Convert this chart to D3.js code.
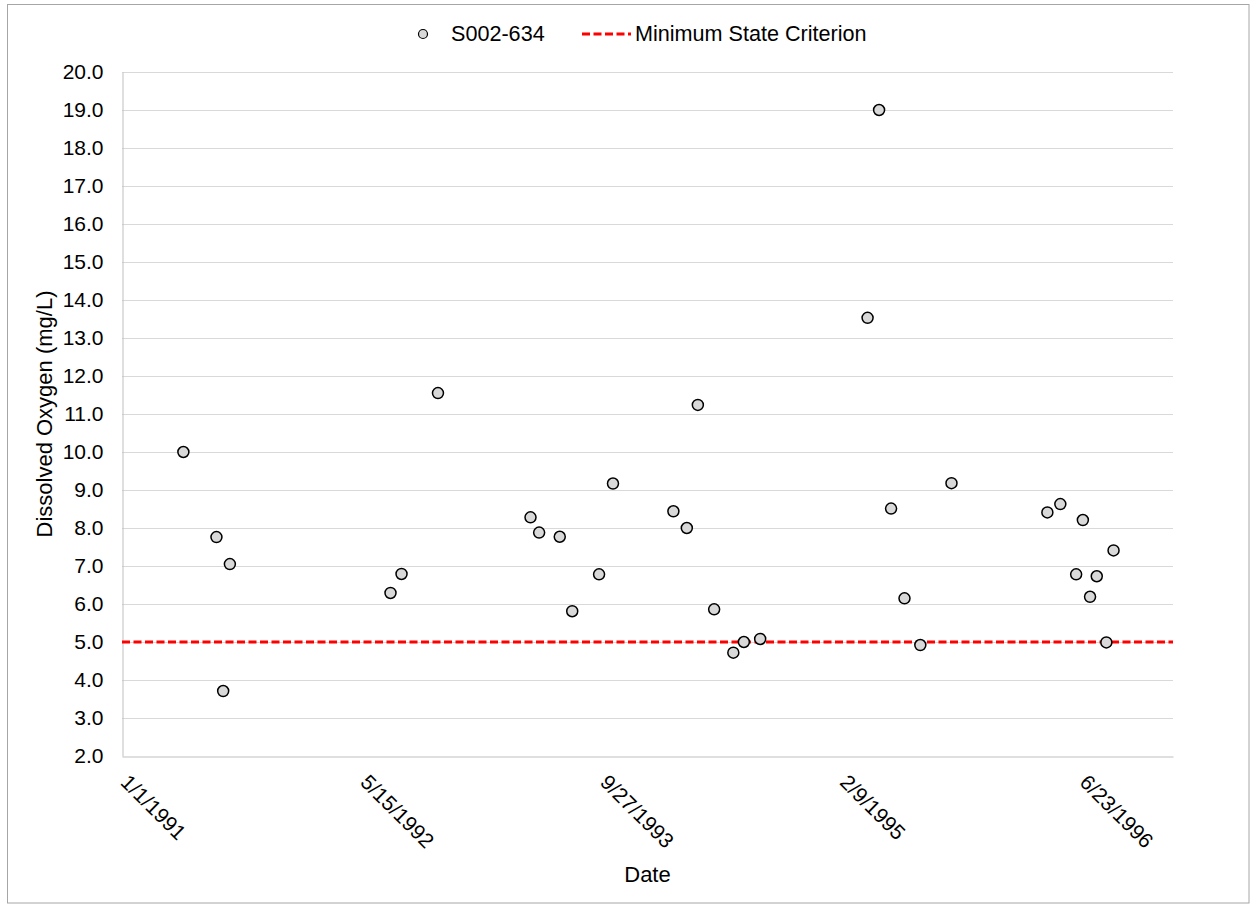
<!DOCTYPE html>
<html>
<head>
<meta charset="utf-8">
<script src="https://cdn.jsdelivr.net/npm/d3@7"></script>
<style>
  html, body { margin: 0; padding: 0; background: #fff; }
  svg { display: block; font-family: "Liberation Sans", Arial, sans-serif; }
</style>
</head>
<body>
<svg id="chart" width="1250" height="904"></svg>
<script>
// ---- data ----
const sampleDates = [
  "1991-05-09","1991-07-17","1991-07-31","1991-08-14",
  "1992-07-14","1992-08-06","1992-10-21",
  "1993-05-02","1993-05-20","1993-07-02","1993-07-28","1993-09-22","1993-10-21",
  "1994-02-24","1994-03-24","1994-04-16","1994-05-20","1994-06-29","1994-07-21","1994-08-24",
  "1995-04-05","1995-04-29","1995-05-24","1995-06-21","1995-07-24","1995-09-27",
  "1996-04-14","1996-05-11","1996-06-13","1996-06-27","1996-07-12","1996-07-26","1996-08-15","1996-08-30"
];
const doValues = [
  10.0, 7.76, 3.71, 7.05,
  6.29, 6.79, 11.55,
  8.28, 7.88, 7.77, 5.81, 6.78, 9.17,
  8.44, 8.0, 11.24, 5.86, 4.72, 5.0, 5.08,
  13.53, 19.0, 8.51, 6.15, 4.92, 9.18,
  8.41, 8.63, 6.78, 8.21, 6.19, 6.73, 4.99, 7.41
];
const criterionValue = 5.0;
const xTickLabels = ["1/1/1991", "5/15/1992", "9/27/1993", "2/9/1995", "6/23/1996"];
const xDomain = ["1991-01-01", "1997-01-01"];
const yTicks = [2,3,4,5,6,7,8,9,10,11,12,13,14,15,16,17,18,19,20];
const seriesName = "S002-634";
const criterionName = "Minimum State Criterion";

// ---- layout ----
const W = 1250, H = 904;
const plot = { left: 122, top: 72, right: 1173, bottom: 756 };

const svg = d3.select("#chart");
const parseISO = d3.utcParse("%Y-%m-%d");
const parseMDY = d3.utcParse("%m/%d/%Y");

const x = d3.scaleUtc()
  .domain(xDomain.map(parseISO))
  .range([plot.left, plot.right]);
const y = d3.scaleLinear()
  .domain([2, 20])
  .range([plot.bottom, plot.top]);

// outer border
svg.append("rect")
  .attr("x", 7.5).attr("y", 4.5)
  .attr("width", W - 8.5).attr("height", H - 5.5)
  .attr("fill", "none").attr("stroke", "#a6a6a6").attr("stroke-width", 1);

// gridlines
svg.append("g")
  .selectAll("line")
  .data(yTicks.filter(d => d > 2))
  .join("line")
  .attr("x1", plot.left).attr("x2", plot.right)
  .attr("y1", d => Math.round(y(d)) + 0.5).attr("y2", d => Math.round(y(d)) + 0.5)
  .attr("stroke", "#d9d9d9").attr("stroke-width", 1);

// y axis
const yAxis = d3.axisLeft(y).tickValues(yTicks).tickFormat(d3.format(".1f")).tickSize(0).tickPadding(19);
const gy = svg.append("g").attr("transform", `translate(${plot.left + 0.5},0)`).call(yAxis);
gy.select(".domain").attr("stroke", "#bfbfbf");
gy.selectAll("text").attr("font-size", 21).attr("fill", "#000")
  .attr("font-family", "Liberation Sans, Arial, sans-serif");

// x axis
const xTickDates = xTickLabels.map(parseMDY);
const xAxis = d3.axisBottom(x).tickValues(xTickDates).tickSize(0).tickFormat((d, i) => xTickLabels[i]);
const gx = svg.append("g").attr("transform", `translate(0,${plot.bottom + 0.5})`).call(xAxis);
gx.select(".domain").attr("stroke", "#bfbfbf");
gx.selectAll(".tick text")
  .attr("font-size", 21).attr("fill", "#000")
  .attr("font-family", "Liberation Sans, Arial, sans-serif")
  .attr("text-anchor", "start")
  .attr("x", 0).attr("y", 0).attr("dy", 0)
  .attr("transform", "translate(-3,27) rotate(45)");

// criterion line
svg.append("line")
  .attr("x1", plot.left).attr("x2", plot.right)
  .attr("y1", y(criterionValue)).attr("y2", y(criterionValue))
  .attr("stroke", "#ff0000").attr("stroke-width", 3)
  .attr("stroke-dasharray", "8,3.5");

// points
svg.append("g")
  .selectAll("circle")
  .data(sampleDates.map((d, i) => ({ date: parseISO(d), v: doValues[i] })))
  .join("circle")
  .attr("cx", d => x(d.date))
  .attr("cy", d => y(d.v))
  .attr("r", 5.5)
  .attr("fill", "#d9d9d9")
  .attr("stroke", "#000")
  .attr("stroke-width", 1.5);

// axis titles
svg.append("text")
  .attr("x", (plot.left + plot.right) / 2).attr("y", 882)
  .attr("text-anchor", "middle").attr("font-size", 22).attr("fill", "#000")
  .text("Date");
svg.append("text")
  .attr("transform", `translate(52,${(plot.top + plot.bottom) / 2}) rotate(-90)`)
  .attr("text-anchor", "middle").attr("font-size", 22).attr("fill", "#000")
  .text("Dissolved Oxygen (mg/L)");

// legend
const leg = svg.append("g");
leg.append("circle").attr("cx", 423).attr("cy", 34).attr("r", 4.5)
  .attr("fill", "#d9d9d9").attr("stroke", "#000").attr("stroke-width", 1.2);
leg.append("text").attr("x", 451).attr("y", 41).attr("font-size", 21.6).attr("fill", "#000").text(seriesName);
leg.append("line").attr("x1", 582).attr("x2", 631).attr("y1", 34).attr("y2", 34)
  .attr("stroke", "#ff0000").attr("stroke-width", 3).attr("stroke-dasharray", "8,3.5");
leg.append("text").attr("x", 635).attr("y", 41).attr("font-size", 21.6).attr("fill", "#000").text(criterionName);
</script>
</body>
</html>
